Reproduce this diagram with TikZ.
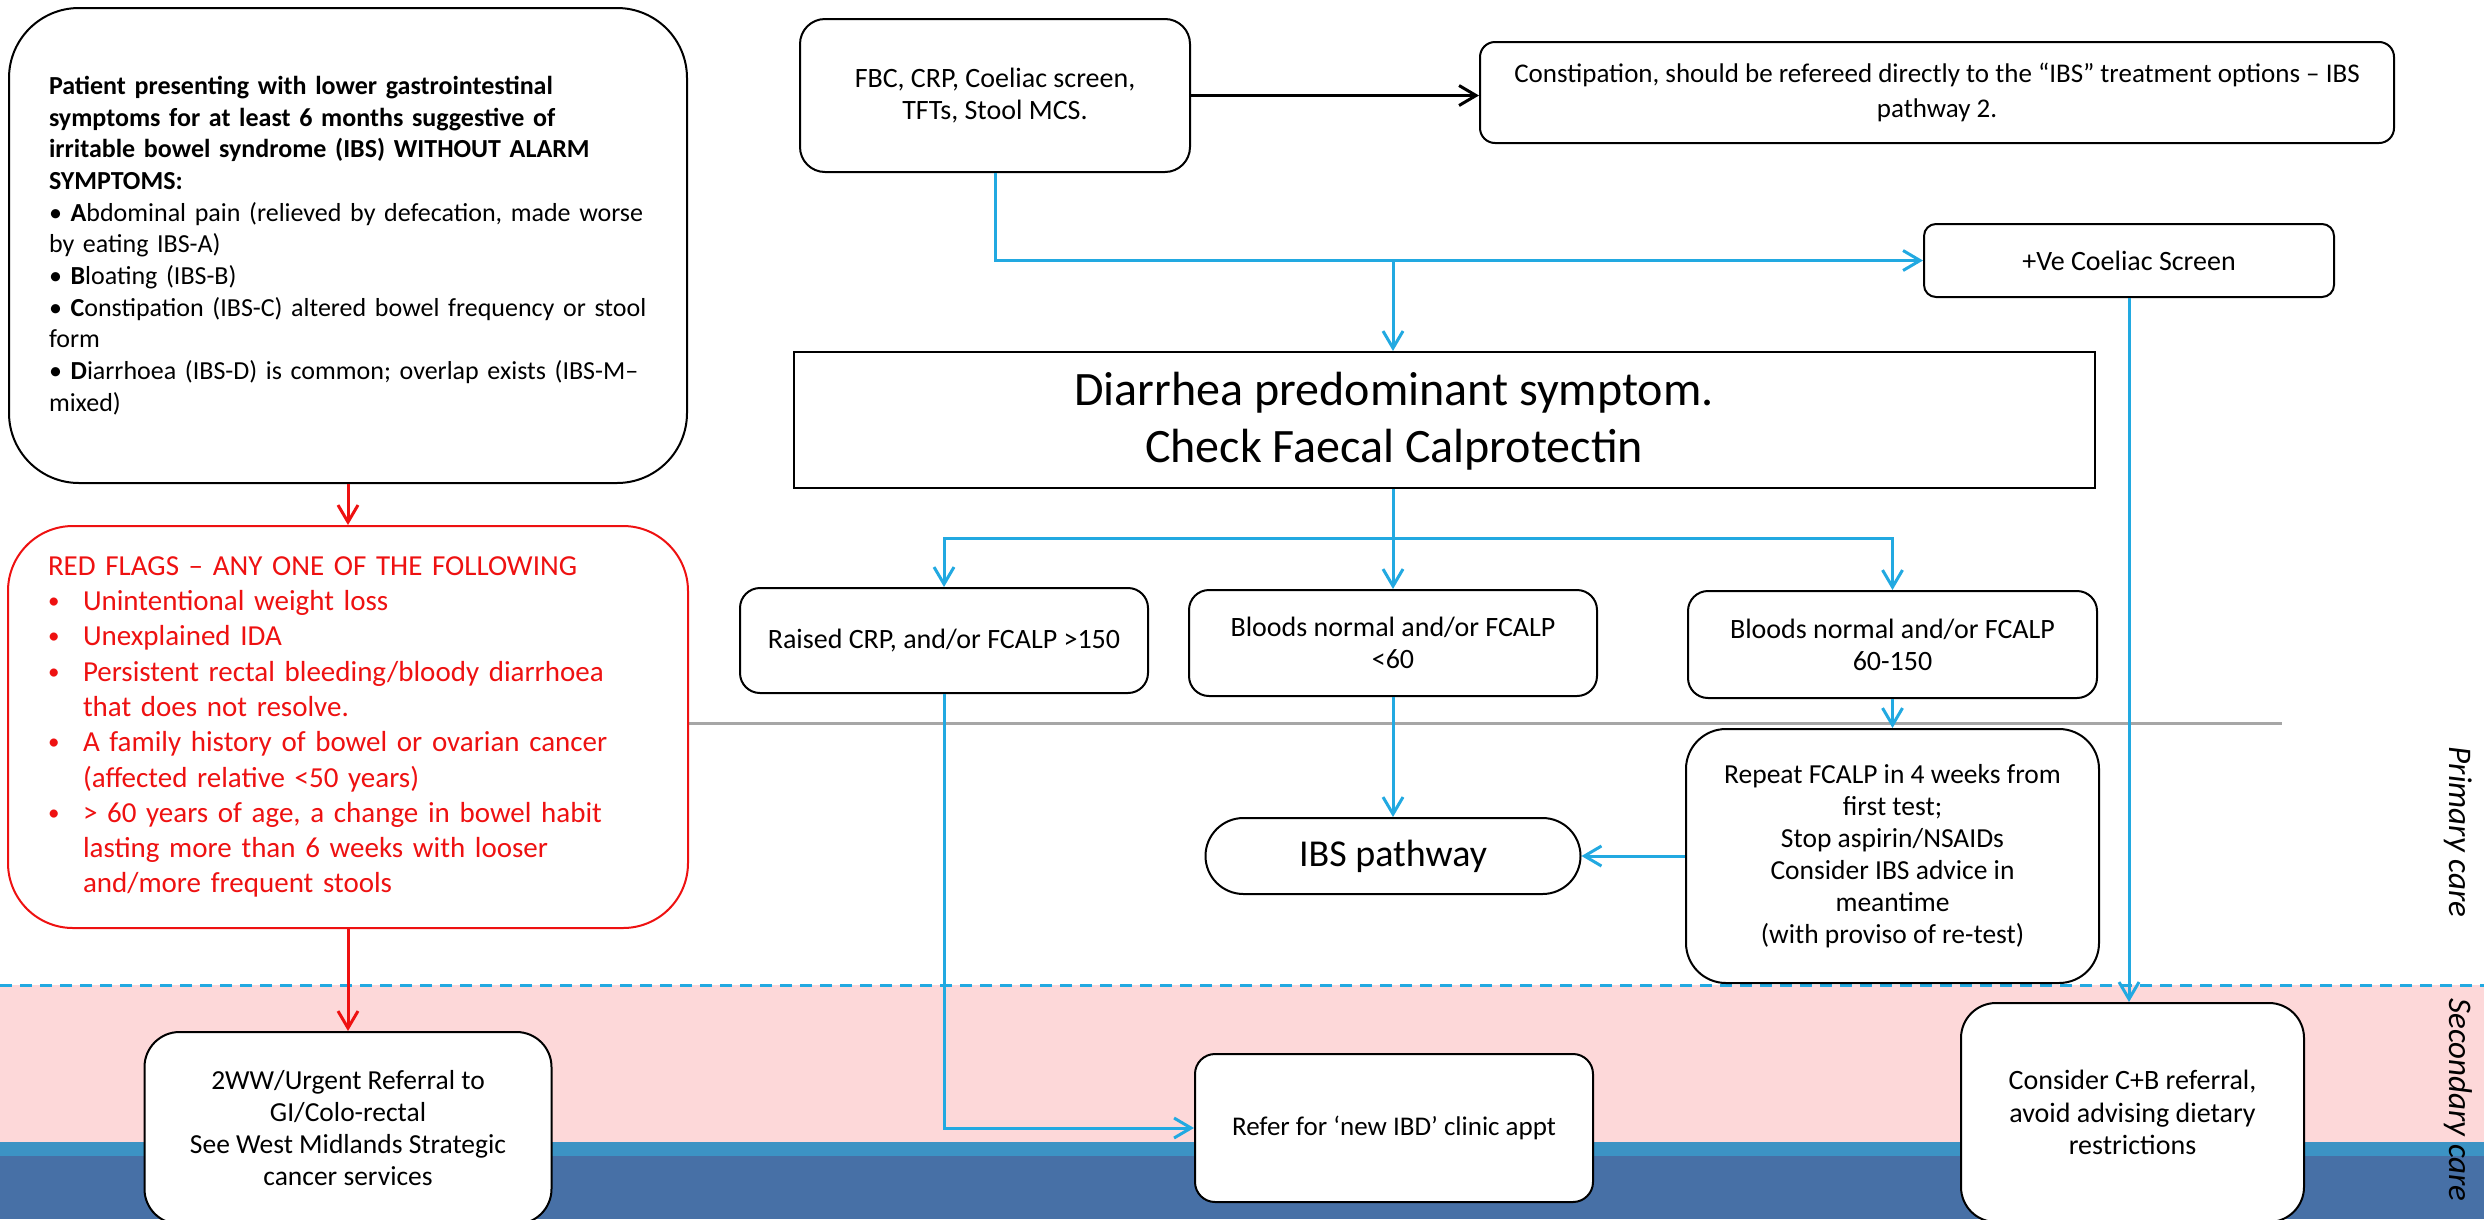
\documentclass[tikz,border=0pt]{standalone}
\usepackage{fontspec}
\setmainfont{Carlito}
\usetikzlibrary{arrows.meta}
\definecolor{bluec}{HTML}{22A9E1}
\definecolor{redc}{HTML}{EE1111}
\definecolor{pinkc}{HTML}{FDD8D9}
\definecolor{bandlight}{HTML}{3C93C4}
\definecolor{banddark}{HTML}{4770A6}
\definecolor{greyc}{HTML}{A6A6A6}
\newcommand\bul{\makebox[35pt][l]{\raisebox{2pt}{\fontsize{23}{23}\selectfont •}}}
\newcommand\ind{\hspace*{35pt}}
\begin{document}
\begin{tikzpicture}[x=1pt,y=-1pt,
  box/.style={draw=black, line width=2pt, fill=white, align=center, inner sep=0pt},
  redbox/.style={draw=redc, line width=2pt, fill=white, inner sep=0pt, text=redc},
  tx/.style={font=\fontsize{28}{32}\selectfont},
  bluearrow/.style={draw=bluec, line width=3pt, -{Straight Barb[length=17pt,width=20pt]}},
  blueline/.style={draw=bluec, line width=3pt},
  redarrow/.style={draw=redc, line width=3pt, -{Straight Barb[length=17pt,width=20pt]}},
  blackarrow/.style={draw=black, line width=3pt, -{Straight Barb[length=17pt,width=20pt]}},
  sidelabel/.style={rotate=-90, font=\itshape\fontsize{33}{40}\selectfont}]
\useasboundingbox (0,0) rectangle (2484,1219);
\clip (0,0) rectangle (2484,1219);
% background bands
\fill[pinkc] (0,985) rectangle (2484,1142);
\fill[bandlight] (0,1142) rectangle (2484,1156);
\fill[banddark] (0,1156) rectangle (2484,1219);
\draw[bluec, line width=3pt, dash pattern=on 12pt off 8pt] (0,985) -- (2484,985);
\draw[greyc, line width=3pt] (687,723.5) -- (2282,723.5);

% nodes
\node[box, rounded corners=70pt, minimum width=678pt, minimum height=475pt,
      text width=598pt, align=left, font=\fontsize{26}{31.7}\selectfont] (pat) at (348,245.5)
 {\textbf{Patient presenting with lower gastrointestinal}\\
  \textbf{symptoms for at least 6 months suggestive of}\\
  \textbf{irritable bowel syndrome (IBS) WITHOUT ALARM}\\
  \textbf{SYMPTOMS:}\\
  • \textbf{A}bdominal pain (relieved by defecation, made worse\\
  by eating IBS-A)\\
  • \textbf{B}loating (IBS-B)\\
  • \textbf{C}onstipation (IBS-C) altered bowel frequency or stool\\
  form\\
  • \textbf{D}iarrhoea (IBS-D) is common; overlap exists (IBS-M–\\
  mixed)};

\node[redbox, rounded corners=65pt, minimum width=680pt, minimum height=402pt,
      text width=600pt, align=left, font=\fontsize{29}{35.3}\selectfont] (rf) at (348,727)
 {RED FLAGS – ANY ONE OF THE FOLLOWING\\
  \bul Unintentional weight loss\\
  \bul Unexplained IDA\\
  \bul Persistent rectal bleeding/bloody diarrhoea\\
  \ind that does not resolve.\\
  \bul A family history of bowel or ovarian cancer\\
  \ind (affected relative <50 years)\\
  \bul > 60 years of age, a change in bowel habit\\
  \ind lasting more than 6 weeks with looser\\
  \ind and/more frequent stools};

\node[box, rounded corners=35pt, minimum width=407pt, minimum height=192pt,
      font=\fontsize{27.5}{32.3}\selectfont] (ww) at (348,1128)
 {2WW/Urgent Referral to\\GI/Colo-rectal\\See West Midlands Strategic\\cancer services};

\node[box, tx, rounded corners=25pt, minimum width=390pt, minimum height=153pt] (fbc) at (995,95.5)
 {FBC, CRP, Coeliac screen,\\TFTs, Stool MCS.};

\node[box, rounded corners=15pt, minimum width=914pt, minimum height=101pt,
      font=\fontsize{27}{35}\selectfont] (con) at (1937,92.5)
 {Constipation, should be refereed directly to the “IBS” treatment options – IBS\\pathway 2.};

\node[box, tx, rounded corners=12pt, minimum width=410pt, minimum height=73pt] (coel) at (2129,260.5)
 {+Ve Coeliac Screen};

\node[box, minimum width=1301pt, minimum height=136pt] (diar) at (1444.5,420) {};
\node[align=center, inner sep=0pt, font=\fontsize{48}{57}\selectfont] (diartxt) at (1394,421)
 {Diarrhea predominant symptom.\\Check Faecal Calprotectin};

\node[box, tx, rounded corners=20pt, minimum width=408pt, minimum height=105pt] (raised) at (944,640.5)
 {Raised CRP, and/or FCALP >150};

\node[box, tx, rounded corners=20pt, minimum width=408pt, minimum height=106pt] (b60) at (1393,643)
 {Bloods normal and/or FCALP\\<60};

\node[box, tx, rounded corners=20pt, minimum width=409pt, minimum height=107pt] (b150) at (1892.5,644.5)
 {Bloods normal and/or FCALP\\60-150};

\node[box, rounded corners=38pt, minimum width=375pt, minimum height=76pt,
      font=\fontsize{38}{44}\selectfont] (ibs) at (1393,856)
 {IBS pathway};

\node[box, rounded corners=40pt, minimum width=413pt, minimum height=254pt,
      font=\fontsize{27.5}{32}\selectfont] (rep) at (1892.5,856)
 {Repeat FCALP in 4 weeks from\\first test;\\Stop aspirin/NSAIDs\\Consider IBS advice in\\meantime\\(with proviso of re-test)};

\node[box, rounded corners=20pt, minimum width=398pt, minimum height=148pt,
      font=\fontsize{27}{32}\selectfont] (refer) at (1394,1128)
 {Refer for ‘new IBD’ clinic appt};

\node[box, tx, rounded corners=35pt, minimum width=343pt, minimum height=219pt,
      font=\fontsize{28}{32.3}\selectfont] (cb) at (2132.5,1112.5)
 {Consider C+B referral,\\avoid advising dietary\\restrictions};

\node[sidelabel] (prim) at (2458,832) {Primary care};
\node[sidelabel] (sec) at (2458,1100) {Secondary care};

% connectors
\draw[redarrow] (pat.south) -- (pat.south |- rf.north);
\draw[redarrow] (rf.south) -- (ww.north);
\draw[blackarrow] (fbc.east) -- (fbc.east -| con.west);
\draw[bluearrow] (fbc.south) |- (coel.west);
\coordinate (j1) at (1393,260.5);
\draw[bluearrow] (j1) -- (j1 |- diar.north);
\coordinate (j2) at (1393,538);
\draw[blueline] (j2 |- diar.south) -- (j2);
\draw[bluearrow] (j2) -| (raised.north);
\draw[bluearrow] (j2) -- (b60.north);
\draw[bluearrow] (j2) -| (b150.north);
\draw[bluearrow] (raised.south) |- (refer.west);
\draw[bluearrow] (b60.south) -- (ibs.north);
\draw[bluearrow] (b150.south) -- (rep.north);
\draw[bluearrow] (rep.west) -- (ibs.east);
\draw[bluearrow] (coel.south) -- (coel.south |- cb.north);
\end{tikzpicture}
\end{document}
